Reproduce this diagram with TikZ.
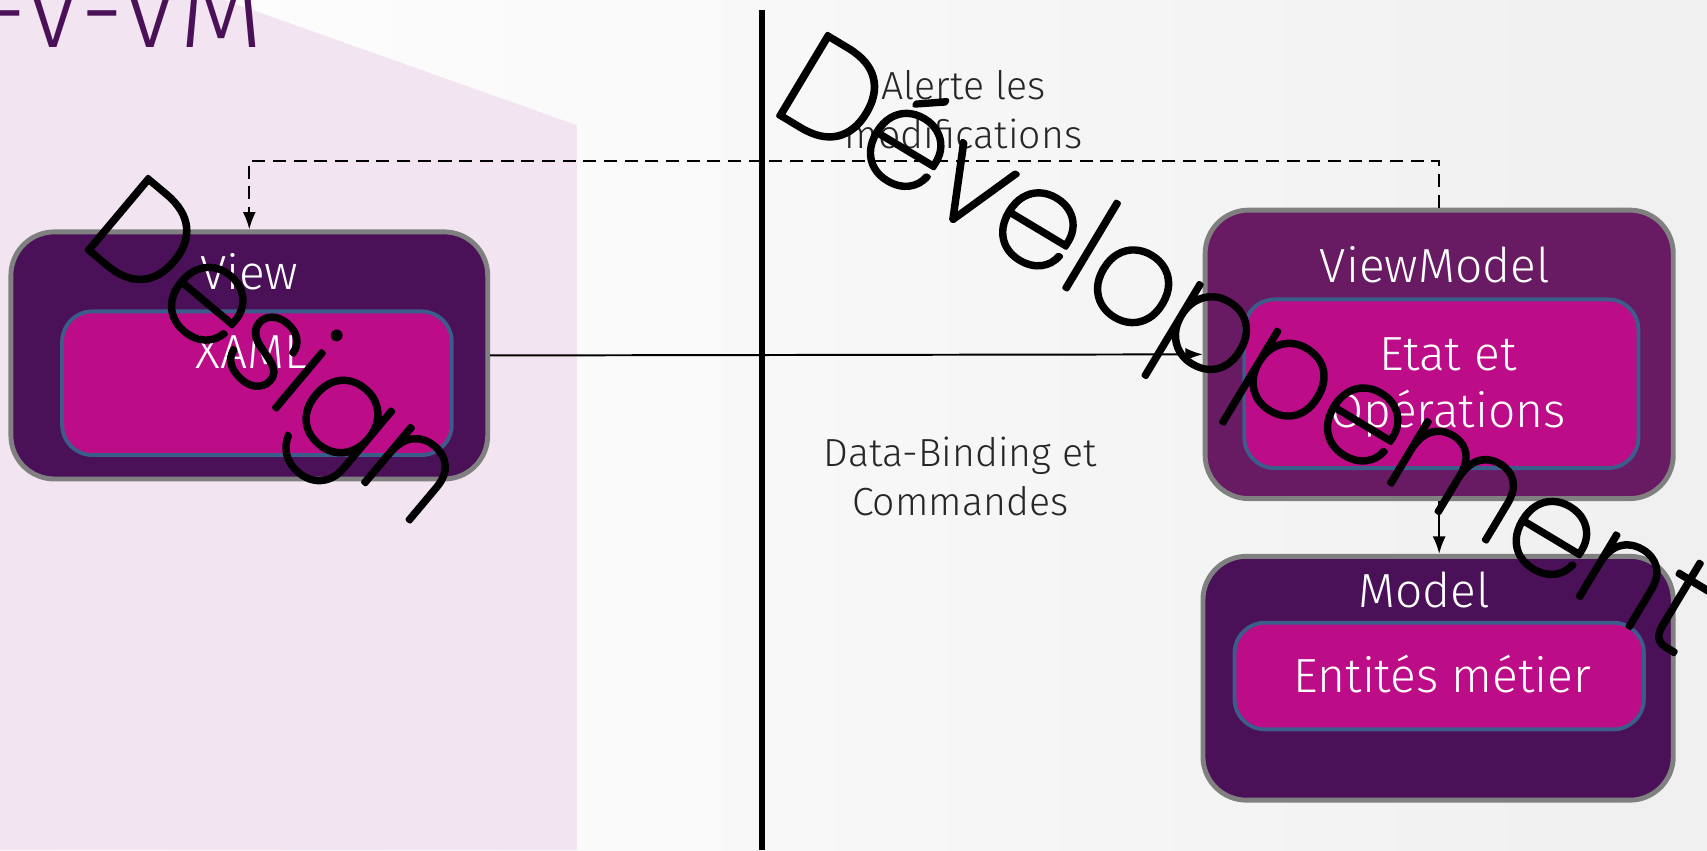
\documentclass[tikz,border=0pt]{standalone}
\usepackage{fontspec}
\setmainfont{Fira Sans Light}
\newfontfamily\bigfont{Poppins Thin}
\usetikzlibrary{arrows.meta}
\definecolor{dpurple}{HTML}{4B1158}
\definecolor{vmpurple}{HTML}{681A63}
\definecolor{magentab}{HTML}{BD0C88}
\definecolor{bblue}{HTML}{3A5D8A}
\definecolor{bgray}{HTML}{808080}
\definecolor{pinkbg}{HTML}{F2E5F1}
\definecolor{txtgray}{HTML}{262626}
\newcommand\outlined[1]{\special{pdf:literal direct 2 Tr 4.5 w 1 j}#1\special{pdf:literal direct 0 Tr 1 w 0 j}}
\begin{document}
\begin{tikzpicture}[x=1pt,y=-1pt,
 outerbox/.style={draw=bgray,line width=4.5pt,rounded corners=40pt,inner sep=0pt},
 innerbox/.style={draw=bblue,line width=3.5pt,fill=magentab,rounded corners=28pt,inner sep=0pt},
 lbl/.style={text=white,font=\fontsize{44}{52}\selectfont,inner sep=0pt,align=center},
 note/.style={text=txtgray,font=\fontsize{36}{45}\selectfont,inner sep=0pt,align=center},
 conn/.style={line width=1.8pt,-{Latex[length=16pt,width=12pt]}},
 bigtext/.style={font=\bigfont\fontsize{124}{140}\selectfont,inner sep=0pt,anchor=base}]
\useasboundingbox (0,0) rectangle (1568,781);
\clip (0,0) rectangle (1568,781);
\shade[left color=white,right color=black!6] (0,0) rectangle (1568,781);
\fill[pinkbg] (0,0) -- (206,0) -- (530,115) -- (530,781) -- (0,781) -- cycle;
\node[anchor=base east,text=dpurple,font=\fontsize{100}{100}\selectfont,inner sep=0pt] (title) at (242,44) {M-V-VM};
% divider
\coordinate (divtop) at (700,9);
\coordinate (divbot) at (700,781);
\draw[line width=6pt] (divtop) -- (divbot);
% View
\node[outerbox,fill=dpurple,minimum width=438pt,minimum height=227pt] (View) at (229,326.5) {};
\node[innerbox,minimum width=358pt,minimum height=132pt] (XAMLbox) at (236,352) {};
\node[lbl] (viewlbl) at (229,250) {View};
\node[lbl] (xamllbl) at (231,323) {XAML};
% ViewModel
\node[outerbox,fill=vmpurple,minimum width=430pt,minimum height=265pt] (VM) at (1322,325.5) {};
\node[innerbox,minimum width=362pt,minimum height=155pt] (VMbox) at (1324,352.5) {};
\node[lbl] (vmlbl) at (1318,243) {ViewModel};
\node[lbl] (etatlbl) at (1330,356) {Etat et\\Opérations};
% Model
\node[outerbox,fill=dpurple,minimum width=432pt,minimum height=224pt] (M) at (1321,623) {};
\node[innerbox,minimum width=376pt,minimum height=98pt] (Mbox) at (1322,621) {};
\node[lbl] (mlbl) at (1308,542) {Model};
\node[lbl] (entlbl) at (1325,619) {Entités métier};
% notes
\node[note] (alerte) at (885,101) {Alerte les\\modifications};
\node[note] (binding) at (882,438) {Data-Binding et\\Commandes};
% connectors
\draw[conn] (View.east) -- (VM.west);
\coordinate (dashy) at (0,148);
\draw[line width=1.8pt,dash pattern=on 12pt off 7pt,-{Latex[length=16pt,width=12pt]}] (VM.north) -- (VM.north |- dashy) -- (View.north |- dashy) -- (View.north);
\draw[conn] (VM.south) -- (VM.south |- M.north);
% big outlined words
\node[bigtext,rotate=-40] (design) at (228,354) {\outlined{Design}};
\node[bigtext,rotate=-31] (dev) at (1124,352) {\outlined{Développement}};
\end{tikzpicture}
\end{document}
